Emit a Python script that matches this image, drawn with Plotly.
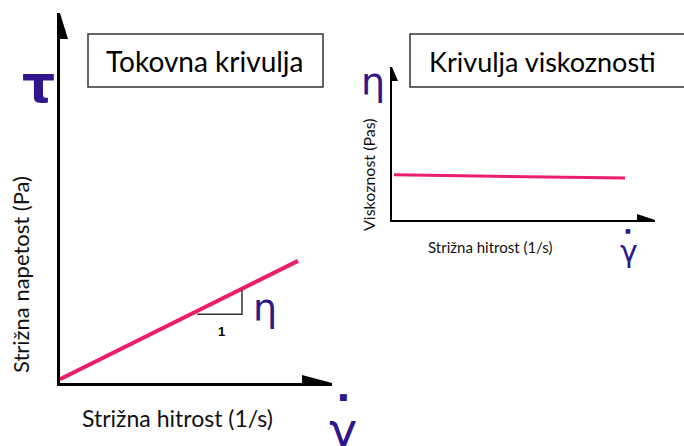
import plotly.graph_objects as go

W, H = 684, 446

# flow curve (left): shear rate vs shear stress, arbitrary units
flow_rate = [0, 8.75]
flow_stress = [0.1, 3.3]
# slope triangle under the flow curve
tri_x = [5.04, 6.69, 6.69]
tri_y = [1.86, 1.86, 2.51]

# viscosity curve (right): shear rate vs viscosity
visc_rate = [0.08, 8.86]
visc_eta = [2.95, 2.75]

PINK = '#ec1c6e'
PURPLE = '#30168a'
FONT = 'Lato, Open Sans, sans-serif'


def px(x):
    return x / W


def py(y):
    return 1 - y / H


fig = go.Figure()
fig.add_trace(go.Scatter(x=flow_rate, y=flow_stress, mode='lines',
                         line=dict(color=PINK, width=4), xaxis='x', yaxis='y'))
fig.add_trace(go.Scatter(x=tri_x, y=tri_y, mode='lines',
                         line=dict(color='#333333', width=1.5), xaxis='x', yaxis='y'))
fig.add_trace(go.Scatter(x=visc_rate, y=visc_eta, mode='lines',
                         line=dict(color=PINK, width=3), xaxis='x2', yaxis='y2'))

ax_common = dict(range=[0, 10], showgrid=False, zeroline=False, showticklabels=False,
                 ticks='', showline=True, linecolor='black', fixedrange=True)
fig.update_layout(
    width=W, height=H,
    margin=dict(l=0, r=0, t=0, b=0, autoexpand=False),
    paper_bgcolor='white', plot_bgcolor='white',
    showlegend=False,
    xaxis=dict(ax_common, domain=[px(60), px(332)], anchor='y', linewidth=3),
    yaxis=dict(ax_common, domain=[py(383), py(13)], anchor='x', linewidth=3),
    xaxis2=dict(ax_common, domain=[px(392), px(655)], anchor='y2', linewidth=2),
    yaxis2=dict(ax_common, domain=[py(220), py(67)], anchor='x2', linewidth=2),
)

# arrowheads at the axis ends
def arrow(xref, yref, xa, ya, path):
    fig.add_shape(type='path', xref=xref, yref=yref, xsizemode='pixel', ysizemode='pixel',
                  xanchor=xa, yanchor=ya, path=path, fillcolor='black', line=dict(width=0))

arrow('x', 'y', 0, 10, 'M0,0 L-8,-26 L8,-26 Z')
arrow('x', 'y', 10, 0, 'M0,0 L-30,8 L-30,-8 Z')
arrow('x2', 'y2', 0, 10, 'M0,0 L-6,-14 L6,-14 Z')
arrow('x2', 'y2', 10, 0, 'M0,0 L-18,6 L-18,-6 Z')

# title boxes
fig.add_shape(type='rect', xref='paper', yref='paper', x0=px(88), x1=px(323), y0=py(87), y1=py(34),
              line=dict(color='#333333', width=1.5), fillcolor='white')
fig.add_shape(type='rect', xref='paper', yref='paper', x0=px(410), x1=px(700), y0=py(87), y1=py(34),
              line=dict(color='#333333', width=1.5), fillcolor='white')


def label(x, y, text, size, color='black', angle=0, family=FONT):
    fig.add_annotation(x=px(x), y=py(y), xref='paper', yref='paper', text=text, showarrow=False,
                       textangle=angle, font=dict(family=family, size=size, color=color),
                       xanchor='center', yanchor='middle')


label(205, 61, 'Tokovna krivulja', 28)
label(542, 61, 'Krivulja viskoznosti', 27)
label(20, 275, 'Strižna napetost (Pa)', 22, color='#111111', angle=-90)
label(177, 418, 'Strižna hitrost (1/s)', 23, color='#111111')
label(368, 175, 'Viskoznost (Pas)', 16, color='#111111', angle=-90)
label(490, 247, 'Strižna hitrost (1/s)', 15, color='#111111')
label(221, 331, '<b>1</b>', 13, family='Liberation Sans')

GREEK = 'DejaVu Sans'
label(38, 84, '<b>τ</b>', 52, color=PURPLE, family=GREEK)
label(265, 308, 'η', 38, color=PURPLE, family=GREEK)
label(373, 82, 'η', 38, color=PURPLE, family=GREEK)
label(343, 430, 'γ', 48, color=PURPLE, family=GREEK)
label(343, 397, '■', 9, color=PURPLE, family=GREEK)
label(629, 252, 'γ', 30, color=PURPLE, family=GREEK)
label(628, 230, '■', 6, color=PURPLE, family=GREEK)

# drop the default page margin so the figure sits at the window corner
fig.write_html('out.html', config={'displayModeBar': False},
               post_script="document.body.style.margin='0';")
